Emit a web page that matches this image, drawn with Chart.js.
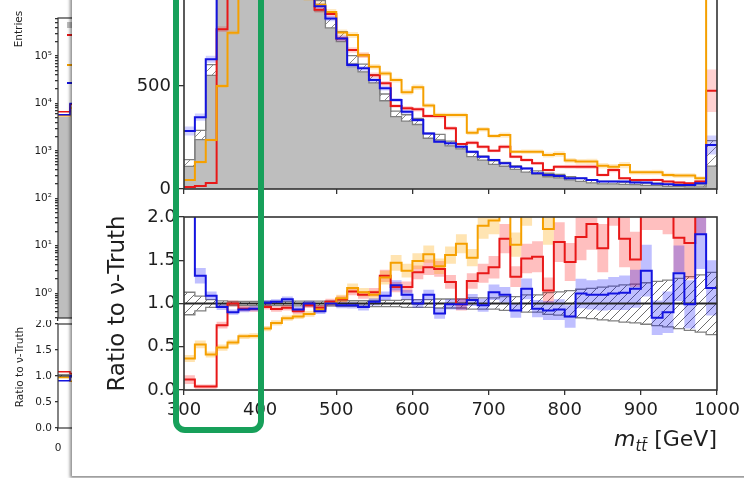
<!DOCTYPE html>
<html><head><meta charset="utf-8">
<script src="https://cdn.jsdelivr.net/npm/chart.js@4.4.1/dist/chart.umd.min.js"></script>
<style>
html,body{margin:0;padding:0;}
body{width:744px;height:478px;overflow:hidden;position:relative;background:#fff;font-family:"DejaVu Sans",sans-serif;color:#1e1e1e;}
canvas{position:absolute;}
.lbl{position:absolute;white-space:nowrap;transform:translate(-50%,-50%) rotate(-90deg);}
.leg{position:absolute;left:67px;width:12px;}
#panel{position:absolute;left:72px;top:-10px;width:700px;height:486px;background:#fff;box-shadow:-2px 2px 3px rgba(0,0,0,0.45);z-index:1;}
#cTop,#cRatio,#xtitle{z-index:2;}
#focus{position:absolute;left:173px;top:-30px;width:91px;height:463px;box-sizing:border-box;border:6px solid #17a05a;border-radius:12px;z-index:3;}
</style></head><body>
<canvas id="sTop" width="250" height="322" style="left:0;top:0"></canvas>
<canvas id="sRatio" width="250" height="140" style="left:0;top:320px"></canvas>
<div class="lbl" style="left:18px;top:29px;font-size:10.5px">Entries</div>
<div class="lbl" style="left:19px;top:367px;font-size:10.5px">Ratio to ν-Truth</div>
<div class="leg" style="top:22px;height:6px;background:#bebebe"></div>
<div class="leg" style="top:34px;height:2px;background:#e81818"></div>
<div class="leg" style="top:64px;height:2px;background:#f5a000"></div>
<div class="leg" style="top:82px;height:2px;background:#1414e0"></div>
<div id="panel"></div>
<canvas id="cTop" width="644" height="214" style="left:100px;top:-20px"></canvas>
<canvas id="cRatio" width="644" height="260" style="left:100px;top:200px"></canvas>
<div id="xtitle" style="position:absolute;right:27px;top:428px;font-size:22px;line-height:1;white-space:nowrap"><i>m</i><span style="font-size:0.68em;vertical-align:-0.35em;font-style:italic">tt̄</span> [GeV]</div>
<div id="focus"></div>
<script>
// ---------------- data ----------------
const binLo = 300, binHi = 1000, nBins = 49;
const xTicksMain = [300, 400, 500, 600, 700, 800, 900, 1000];
const yTicksTop = [0, 500];
const yTicksRatio = [0, 0.5, 1.0, 1.5, 2.0];

const truthTop  = [126, 262, 578, 1040, 1380, 1550, 1600, 1560, 1450, 1320, 1180, 1020, 890, 805, 740, 628, 588, 535, 445, 365, 345, 328, 258, 252, 221, 206, 168, 150, 128, 120, 104, 91, 80, 68, 63, 52, 44, 36, 31, 31, 28, 27, 23, 23, 18, 18, 15, 15, 173];
const redTop    = [10, 15, 29, 776, 1380, 1460, 1500, 1500, 1355, 1250, 1075, 1000, 870, 850, 731, 675, 650, 553, 513, 403, 392, 387, 354, 354, 295, 218, 225, 205, 186, 205, 157, 141, 125, 92, 108, 108, 108, 108, 68, 92, 52, 44, 44, 44, 36, 31, 28, 36, 477];
const orangeTop = [44, 131, 238, 500, 759, 961, 1008, 1108, 1116, 1096, 1003, 930, 895, 860, 760, 748, 650, 594, 561, 529, 470, 494, 405, 359, 359, 359, 273, 290, 257, 262, 181, 181, 181, 165, 170, 138, 133, 133, 113, 108, 116, 81, 81, 81, 68, 65, 65, 52, 1500];
const blueTop   = [282, 349, 630, 994, 1240, 1450, 1500, 1580, 1480, 1380, 1100, 1020, 888, 828, 731, 602, 586, 529, 489, 432, 375, 335, 270, 230, 222, 205, 181, 157, 141, 125, 108, 100, 76, 68, 63, 52, 52, 44, 36, 36, 36, 31, 31, 25, 23, 20, 20, 28, 214];
const truthRelErr = [0.13, 0.085, 0.045, 0.03, 0.025, 0.025, 0.025, 0.025, 0.025, 0.025, 0.028, 0.028, 0.028, 0.028, 0.032, 0.032, 0.032, 0.037, 0.037, 0.037, 0.045, 0.045, 0.045, 0.052, 0.052, 0.052, 0.065, 0.065, 0.065, 0.08, 0.08, 0.1, 0.1, 0.125, 0.135, 0.15, 0.165, 0.175, 0.19, 0.2, 0.215, 0.225, 0.24, 0.255, 0.27, 0.29, 0.31, 0.33, 0.36];
const haloScale = 0.6;

const ratioRed    = [0.12, 0.04, 0.04, 0.75, 1.00, 0.94, 0.935, 0.96, 0.935, 0.95, 0.91, 0.98, 0.95, 1.02, 1.05, 1.14, 1.10, 1.13, 1.32, 1.19, 1.19, 1.36, 1.42, 1.40, 1.25, 0.99, 1.26, 1.35, 1.42, 1.75, 1.31, 1.52, 1.54, 1.15, 1.71, 1.48, 1.77, 1.92, 1.64, 2.30, 1.75, 1.51, 2.30, 2.30, 2.30, 1.76, 1.70, 2.40, 2.70];
const ratioOrange = [0.365, 0.527, 0.41, 0.49, 0.55, 0.62, 0.625, 0.71, 0.775, 0.83, 0.85, 0.88, 0.93, 1.0, 1.06, 1.18, 1.13, 1.10, 1.30, 1.47, 1.38, 1.49, 1.57, 1.43, 1.56, 1.69, 1.53, 1.90, 1.96, 2.3, 1.68, 2.1, 2.3, 1.86, 2.7, 2.65, 3.0, 3.7, 3.6, 3.5, 4.1, 3.0, 3.5, 3.5, 3.8, 3.6, 4.3, 3.5, 8.0];
const ratioBlue   = [2.25, 1.32, 1.09, 0.96, 0.90, 0.93, 0.94, 1.01, 1.02, 1.05, 0.93, 1.0, 0.91, 1.0, 0.98, 0.98, 0.96, 1.02, 1.09, 1.21, 1.10, 1.0, 1.10, 0.885, 0.99, 0.99, 1.04, 0.98, 1.13, 1.10, 0.92, 1.17, 0.94, 0.92, 0.93, 0.85, 1.115, 1.10, 1.10, 1.115, 1.125, 1.17, 1.38, 0.835, 0.90, 1.35, 0.99, 1.80, 1.18];
const errRed    = [0.05, 0.025, 0.025, 0.04, 0.035, 0.03, 0.03, 0.03, 0.03, 0.03, 0.03, 0.032, 0.032, 0.035, 0.04, 0.045, 0.045, 0.05, 0.07, 0.06, 0.065, 0.08, 0.09, 0.09, 0.08, 0.07, 0.09, 0.11, 0.13, 0.17, 0.12, 0.17, 0.18, 0.15, 0.23, 0.22, 0.27, 0.3, 0.28, 0.4, 0.33, 0.32, 0.45, 0.45, 0.5, 0.4, 0.42, 0.6, 0.7];
const errOrange = [0.04, 0.045, 0.035, 0.035, 0.03, 0.03, 0.03, 0.03, 0.03, 0.03, 0.03, 0.032, 0.032, 0.035, 0.04, 0.05, 0.05, 0.05, 0.08, 0.09, 0.08, 0.09, 0.1, 0.09, 0.1, 0.11, 0.1, 0.15, 0.16, 0.2, 0.14, 0.2, 0.22, 0.18, 0.3, 0.32, 0.38, 0.45, 0.45, 0.45, 0.55, 0.45, 0.55, 0.55, 0.6, 0.6, 0.7, 0.65, 1.0];
const errBlue   = [0.25, 0.09, 0.05, 0.035, 0.03, 0.03, 0.03, 0.03, 0.03, 0.03, 0.032, 0.032, 0.032, 0.035, 0.035, 0.037, 0.04, 0.042, 0.05, 0.06, 0.055, 0.05, 0.06, 0.06, 0.06, 0.065, 0.07, 0.075, 0.09, 0.09, 0.085, 0.12, 0.1, 0.11, 0.12, 0.13, 0.17, 0.17, 0.18, 0.19, 0.2, 0.22, 0.3, 0.2, 0.24, 0.32, 0.28, 0.4, 0.32];
const ratioRef = 1.0;

// small background figure (left, mostly hidden)
const smallEdges = [0, 50, 100, 150];
const smallXTicks = [0, 200, 400];
const smallTruth  = [5200, 9000, 12000];
const smallRed    = [6700, 9500, 12500];
const smallOrange = [5500, 8000, 11000];
const smallBlue   = [5800, 10000, 12500];
const smallRatioRed = [1.08, 1.05, 1.04];
const smallRatioOrange = [0.97, 0.9, 0.92];
const smallRatioBlue = [0.91, 1.0, 1.02];
const smallRatioTicks = [0, 0.5, 1.0, 1.5, 2.0];

// ---------------- helpers ----------------
Chart.defaults.font.family = '"DejaVu Sans", sans-serif';
Chart.defaults.color = '#1e1e1e';
const edges = Array.from({length: nBins + 1}, (_, i) => binLo + i * (binHi - binLo) / nBins);
function step(vals, ed) {
  ed = ed || edges;
  return vals.map((v, i) => ({x: ed[i], y: v})).concat([{x: ed[vals.length], y: vals[vals.length - 1]}]);
}
function ln(vals, color, w, order, extra, ed) {
  return Object.assign({data: step(vals, ed), borderColor: color, borderWidth: w, stepped: true,
    pointRadius: 0, fill: false, order: order, backgroundColor: 'rgba(0,0,0,0)'}, extra || {});
}
function hatch(bg, col) {
  const c = document.createElement('canvas'); c.width = c.height = 9;
  const g = c.getContext('2d');
  if (bg) { g.fillStyle = bg; g.fillRect(0, 0, 9, 9); }
  g.strokeStyle = col; g.lineWidth = 1;
  g.beginPath();
  g.moveTo(0, 9); g.lineTo(9, 0);
  g.moveTo(-5, 5); g.lineTo(5, -5);
  g.moveTo(4, 14); g.lineTo(14, 4);
  g.stroke();
  return c.getContext('2d').createPattern(c, 'repeat');
}
const frame = {id: 'frame', afterDatasetsDraw(c, a, o) {
  const {ctx, chartArea: {left, right, top, bottom}} = c;
  ctx.save(); ctx.strokeStyle = '#333'; ctx.lineWidth = o.width || 1.5;
  ctx.strokeRect(left, top, right - left, bottom - top); ctx.restore();
}};
function grid(len) {
  return {drawOnChartArea: false, drawTicks: true, tickLength: len, tickColor: '#333', tickWidth: 1.3, color: '#333', lineWidth: 1.3};
}
function xAxis(min, max, tv, show, size, pad, h, len) {
  return {type: 'linear', min, max,
    afterBuildTicks: s => { s.ticks = tv.map(v => ({value: v})); },
    ticks: {display: show, autoSkip: false, maxRotation: 0, font: {size}, padding: pad, color: '#1e1e1e', callback: v => String(v)},
    grid: grid(len), border: {display: false},
    afterFit: s => { s.height = h; s.paddingLeft = 0; s.paddingRight = 0; }};
}
function yAxis(min, max, tv, size, pad, w, len, fmt, extra) {
  return Object.assign({type: 'linear', min, max,
    afterBuildTicks: s => { s.ticks = tv.map(v => ({value: v})); },
    ticks: {autoSkip: false, font: {size}, padding: pad, color: '#1e1e1e', callback: fmt},
    grid: grid(len), border: {display: false},
    afterFit: s => { s.width = w; s.paddingTop = 0; s.paddingBottom = 0; }}, extra || {});
}
const base = {responsive: false, animation: false, devicePixelRatio: 1, events: [],
  plugins: {legend: {display: false}, tooltip: {enabled: false}}};
function opts(layout, scales, fw) {
  return Object.assign({}, base, {layout: {padding: layout}, scales,
    plugins: Object.assign({}, base.plugins, {frame: {width: fw}})});
}

const C_RED = '#e81818', C_OR = '#f5a000', C_BL = '#1414e0', C_GR = '#808080';
const hatchWhite = hatch('#ffffff', '#8c8c8c'), hatchClear = hatch(null, '#6e6e6e');

// ---------------- main top panel ----------------
const lo = (v, r, k) => v.map((x, i) => x * (1 - k * r[i]));
const hi = (v, r, k) => v.map((x, i) => x * (1 + k * r[i]));
new Chart(document.getElementById('cTop'), {
  type: 'line',
  data: {datasets: [
    ln(truthTop, 'rgba(0,0,0,0)', 0, 100, {fill: 'origin', backgroundColor: '#bebebe'}),
    ln(lo(truthTop, truthRelErr, 1), C_GR, 1.3, 88),
    ln(hi(truthTop, truthRelErr, 1), C_GR, 1.3, 89, {fill: '-1', backgroundColor: hatchWhite}),
    ln(lo(redTop, truthRelErr, haloScale), 'rgba(0,0,0,0)', 0, 81),
    ln(hi(redTop, truthRelErr, haloScale), 'rgba(0,0,0,0)', 0, 80, {fill: '-1', backgroundColor: 'rgba(255,0,0,0.18)'}),
    ln(lo(orangeTop, truthRelErr, haloScale), 'rgba(0,0,0,0)', 0, 79),
    ln(hi(orangeTop, truthRelErr, haloScale), 'rgba(0,0,0,0)', 0, 78, {fill: '-1', backgroundColor: 'rgba(255,165,0,0.22)'}),
    ln(lo(blueTop, truthRelErr, haloScale), 'rgba(0,0,0,0)', 0, 77),
    ln(hi(blueTop, truthRelErr, haloScale), 'rgba(0,0,0,0)', 0, 76, {fill: '-1', backgroundColor: 'rgba(0,0,255,0.18)'}),
    ln(redTop, C_RED, 2, 30),
    ln(orangeTop, C_OR, 2, 20),
    ln(blueTop, C_BL, 2, 10)
  ]},
  options: opts({top: 0, right: 27, left: 0, bottom: 0}, {
    x: xAxis(binLo, binHi, xTicksMain, false, 18, 4, 5, 5),
    y: yAxis(0, 1015, yTicksTop, 18, 8, 84, 5, v => String(v))
  }, 1.6),
  plugins: [frame]
});

// ---------------- main ratio panel ----------------
const rlo = (v, e) => v.map((x, i) => x - e[i]);
const rhi = (v, e) => v.map((x, i) => x + e[i]);
const refVals = truthTop.map(() => ratioRef);
new Chart(document.getElementById('cRatio'), {
  type: 'line',
  data: {datasets: [
    ln(refVals.map((x, i) => x - truthRelErr[i]), C_GR, 1.3, 95),
    ln(refVals.map((x, i) => x + truthRelErr[i]), C_GR, 1.3, 96, {fill: '-1', backgroundColor: hatchClear}),
    ln(rlo(ratioRed, errRed), 'rgba(0,0,0,0)', 0, 81),
    ln(rhi(ratioRed, errRed), 'rgba(0,0,0,0)', 0, 80, {fill: '-1', backgroundColor: 'rgba(255,0,0,0.25)'}),
    ln(rlo(ratioOrange, errOrange), 'rgba(0,0,0,0)', 0, 79),
    ln(rhi(ratioOrange, errOrange), 'rgba(0,0,0,0)', 0, 78, {fill: '-1', backgroundColor: 'rgba(255,165,0,0.3)'}),
    ln(rlo(ratioBlue, errBlue), 'rgba(0,0,0,0)', 0, 77),
    ln(rhi(ratioBlue, errBlue), 'rgba(0,0,0,0)', 0, 76, {fill: '-1', backgroundColor: 'rgba(0,0,255,0.25)'}),
    ln(refVals, '#262626', 2, 40),
    ln(ratioRed, C_RED, 2, 30),
    ln(ratioOrange, C_OR, 2, 20),
    ln(ratioBlue, C_BL, 2, 10)
  ]},
  options: opts({top: 17, right: 27, left: 0, bottom: 0}, {
    x: xAxis(binLo, binHi, xTicksMain, true, 18, 5, 70, 5),
    y: yAxis(0, 2, yTicksRatio, 18, 3, 84, 5, v => v.toFixed(1), {
      title: {display: true, text: 'Ratio to ν-Truth', font: {size: 23}, color: '#1e1e1e', padding: {top: 4, bottom: 0}}
    })
  }, 1.6),
  plugins: [frame]
});

// ---------------- small background figure ----------------
const sup = ['⁰', '¹', '²', '³', '⁴', '⁵'];
new Chart(document.getElementById('sTop'), {
  type: 'line',
  data: {datasets: [
    ln(smallTruth, 'rgba(0,0,0,0)', 0, 100, {fill: 'origin', backgroundColor: '#bebebe'}, smallEdges),
    ln(smallOrange, C_OR, 1.5, 30, null, smallEdges),
    ln(smallRed, C_RED, 1.5, 20, null, smallEdges),
    ln(smallBlue, C_BL, 1.5, 10, null, smallEdges)
  ]},
  options: opts({top: 18, right: 0, left: 0, bottom: 0}, {
    x: xAxis(0, 800, smallXTicks, false, 10, 2, 4, 3),
    y: {type: 'logarithmic', min: 0.331, max: 631000,
      afterBuildTicks: s => {
        const t = [];
        for (let e = -1; e <= 5; e++) for (let m = 1; m <= 9; m++) {
          const v = m * Math.pow(10, e);
          if (v >= s.min && v <= s.max) t.push({value: v, lab: m === 1 ? '10' + sup[e] : ''});
        }
        s.ticks = t;
      },
      ticks: {autoSkip: false, font: {size: 10.5}, padding: 3, color: '#1e1e1e',
        callback: (v, i, t) => t[i].lab},
      grid: grid(3), border: {display: false},
      afterFit: s => { s.width = 58; s.paddingTop = 0; s.paddingBottom = 0; }}
  }, 1.2),
  plugins: [frame]
});
const sref = smallTruth.map(() => ratioRef);
new Chart(document.getElementById('sRatio'), {
  type: 'line',
  data: {datasets: [
    ln(sref.map(x => x - 0.03), C_GR, 1, 95, null, smallEdges),
    ln(sref.map(x => x + 0.03), C_GR, 1, 96, {fill: '-1', backgroundColor: hatchClear}, smallEdges),
    ln(sref, '#262626', 1.5, 40, null, smallEdges),
    ln(smallRatioOrange, C_OR, 1.5, 30, null, smallEdges),
    ln(smallRatioRed, C_RED, 1.5, 20, null, smallEdges),
    ln(smallRatioBlue, C_BL, 1.5, 10, null, smallEdges)
  ]},
  options: opts({top: 4, right: 0, left: 0, bottom: 0}, {
    x: xAxis(0, 800, smallXTicks, true, 10.5, 11, 32, 3),
    y: yAxis(0, 2, smallRatioTicks, 10.5, 3, 58, 3, v => v.toFixed(1))
  }, 1.2),
  plugins: [frame]
});
</script>
</body></html>
